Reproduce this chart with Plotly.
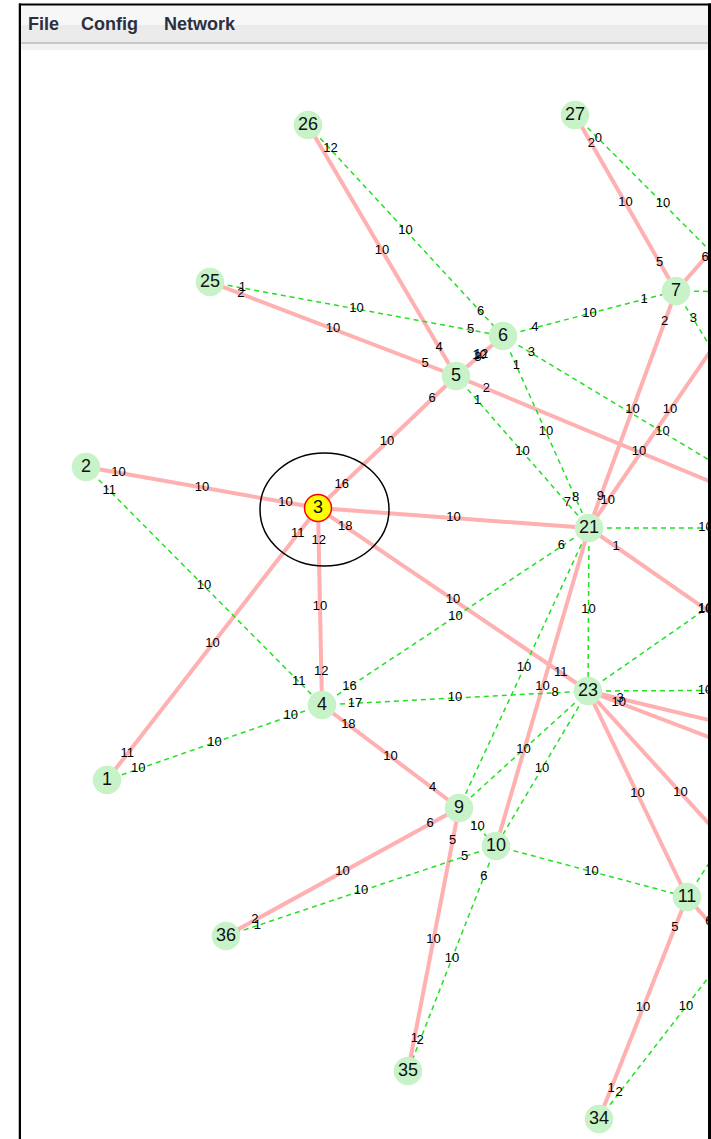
import math
import plotly.graph_objects as go

# ---------------- data ----------------
node_ids = [1, 2, 3, 4, 5, 6, 7, 9, 10, 11, 21, 23, 25, 26, 27, 34, 35, 36,
            8, 12, 22, 24, 28, 29, 30, 31]
node_x = [107, 86, 318, 322, 456, 503, 676, 459, 496, 687, 589, 588, 210, 308, 575, 599, 408, 226,
          734, 751, 822, 822, 900, 900, 773, 760]
node_y = [780, 467, 508, 705, 376, 336, 291, 808, 846, 897, 528, 691, 282, 125, 115, 1119, 1071, 936,
          225, 292, 528, 690, 766, 810, 894, 980]
selected_node = 3

# solid (pink) links: source, target, label near source, middle label, label near target
solid_src = [26, 25, 27, 7, 7, 6, 5, 5, 2, 3, 3, 3, 3, 4, 21, 21, 21, 23, 23, 23, 23, 9, 9, 11, 11]
solid_tgt = [5, 5, 7, 8, 21, 5, 22, 3, 3, 21, 23, 4, 1, 9, 12, 24, 10, 11, 28, 29, 30, 36, 35, 34, 31]
solid_la = ["", "2", "2", "", "2", "3", "2", "6", "10", "", "18", "12", "11", "18", "10", "1", "", "", "3", "10", "", "6", "5", "5", "6"]
solid_lm = ["10", "10", "10", "6", "10", "10", "10", "10", "10", "10", "10", "10", "10", "10", "10", "10", "10", "10", "", "", "10", "10", "10", "10", ""]
solid_lb = ["4", "5", "5", "", "9", "12", "", "16", "10", "", "11", "12", "11", "4", "", "", "", "", "", "", "", "2", "1", "1", ""]

# dashed (green) links
dash_src = [26, 25, 27, 6, 7, 7, 6, 6, 5, 2, 4, 4, 4, 21, 21, 21, 23, 23, 23, 23, 9, 10, 10, 10, 34, 11]
dash_tgt = [6, 6, 12, 7, 12, 22, 21, 22, 21, 4, 1, 21, 23, 23, 22, 9, 22, 24, 9, 10, 10, 36, 35, 11, 30, 24]
dash_la = ["12", "1", "0", "4", "", "3", "1", "3", "1", "11", "10", "16", "17", "", "", "", "", "", "", "", "", "5", "6", "", "2", ""]
dash_lm = ["10", "10", "10", "10", "4", "", "10", "10", "10", "10", "10", "10", "10", "10", "10", "10", "10", "10", "10", "10", "10", "10", "10", "10", "10", ""]
dash_lb = ["6", "5", "", "1", "", "", "8", "", "7", "11", "10", "6", "8", "", "", "", "", "", "", "", "", "1", "2", "", "", ""]

menu_items = ["File", "Config", "Network"]

# ---------------- helpers ----------------
pos = {n: (x, y) for n, x, y in zip(node_ids, node_x, node_y)}
END_DIST = 33


def edge_lines(src, tgt):
    xs, ys = [], []
    for a, b in zip(src, tgt):
        xs += [pos[a][0], pos[b][0], None]
        ys += [pos[a][1], pos[b][1], None]
    return xs, ys


def edge_labels(src, tgt, la, lm, lb):
    xs, ys, ts = [], [], []
    for a, b, t1, t2, t3 in zip(src, tgt, la, lm, lb):
        (x1, y1), (x2, y2) = pos[a], pos[b]
        L = math.hypot(x2 - x1, y2 - y1)
        ux, uy = (x2 - x1) / L, (y2 - y1) / L
        if t1:
            xs.append(x1 + ux * END_DIST); ys.append(y1 + uy * END_DIST); ts.append(t1)
        if t2:
            xs.append((x1 + x2) / 2); ys.append((y1 + y2) / 2); ts.append(t2)
        if t3:
            xs.append(x2 - ux * END_DIST); ys.append(y2 - uy * END_DIST); ts.append(t3)
    return xs, ys, ts


fig = go.Figure()

sx, sy = edge_lines(solid_src, solid_tgt)
fig.add_trace(go.Scatter(x=sx, y=sy, mode="lines", line=dict(color="#FFB0B0", width=4),
                         hoverinfo="skip", showlegend=False))
dx, dy = edge_lines(dash_src, dash_tgt)
fig.add_trace(go.Scatter(x=dx, y=dy, mode="lines",
                         line=dict(color="#22E022", width=1.5, dash="5px,4px"),
                         hoverinfo="skip", showlegend=False))

# nodes
fill = ["#FFFF00" if n == selected_node else "#C8F3C8" for n in node_ids]
edge_col = ["#FF0000" if n == selected_node else "#C8F3C8" for n in node_ids]
fig.add_trace(go.Scatter(x=node_x, y=node_y, mode="markers+text",
                         text=[str(n) for n in node_ids], textposition="middle center",
                         textfont=dict(family="Liberation Sans, Arial", size=18, color="#111111"),
                         marker=dict(size=27, color=fill, line=dict(color=edge_col, width=1.5)),
                         hoverinfo="skip", showlegend=False))

# edge labels
lx1, ly1, lt1 = edge_labels(solid_src, solid_tgt, solid_la, solid_lm, solid_lb)
lx2, ly2, lt2 = edge_labels(dash_src, dash_tgt, dash_la, dash_lm, dash_lb)
fig.add_trace(go.Scatter(x=lx1 + lx2, y=ly1 + ly2, mode="text", text=lt1 + lt2,
                         textposition="middle center",
                         textfont=dict(family="Liberation Sans, Arial", size=13, color="#000000"),
                         hoverinfo="skip", showlegend=False))

shapes = []
# selection ellipse
shapes.append(dict(type="circle", xref="x", yref="y", x0=260, x1=389, y0=453, y1=566,
                   line=dict(color="black", width=1.5)))
# window chrome
shapes.append(dict(type="rect", xref="x", yref="y", x0=20, x1=711, y0=5, y1=25,
                   fillcolor="#F7F7F7", line=dict(width=0), layer="above"))
shapes.append(dict(type="rect", xref="x", yref="y", x0=20, x1=711, y0=25, y1=42,
                   fillcolor="#EBEBEB", line=dict(width=0), layer="above"))
shapes.append(dict(type="rect", xref="x", yref="y", x0=20, x1=711, y0=42, y1=44,
                   fillcolor="#C8C8C8", line=dict(width=0), layer="above"))
shapes.append(dict(type="rect", xref="x", yref="y", x0=20, x1=711, y0=44, y1=50,
                   fillcolor="#F2F2F2", line=dict(width=0), layer="above"))
shapes.append(dict(type="rect", xref="x", yref="y", x0=19, x1=711, y0=3.5, y1=5.5,
                   fillcolor="black", line=dict(width=0), layer="above"))
shapes.append(dict(type="rect", xref="x", yref="y", x0=18.5, x1=21, y0=3.5, y1=1139,
                   fillcolor="black", line=dict(width=0), layer="above"))
shapes.append(dict(type="rect", xref="x", yref="y", x0=708, x1=711, y0=3.5, y1=1139,
                   fillcolor="black", line=dict(width=0), layer="above"))
shapes.append(dict(type="rect", xref="x", yref="y", x0=0, x1=18.5, y0=0, y1=1139,
                   fillcolor="white", line=dict(width=0), layer="above"))

annotations = []
for item, xpos in zip(menu_items, [26, 79, 162]):
    annotations.append(dict(text="<b>" + item + "</b>", x=xpos, y=24, xref="x", yref="y",
                            xanchor="left", yanchor="middle", showarrow=False,
                            font=dict(family="Liberation Sans, Arial", size=18, color="#2B3040")))

fig.update_layout(width=711, height=1139, margin=dict(l=0, r=0, t=0, b=0),
                  paper_bgcolor="white", plot_bgcolor="white",
                  xaxis=dict(range=[0, 711], visible=False, fixedrange=True),
                  yaxis=dict(range=[1139, 0], visible=False, fixedrange=True),
                  shapes=shapes, annotations=annotations, showlegend=False)

fig.write_html("out.html", config={"displayModeBar": False},
               post_script="document.body.style.margin='0';document.body.style.overflow='hidden';")
